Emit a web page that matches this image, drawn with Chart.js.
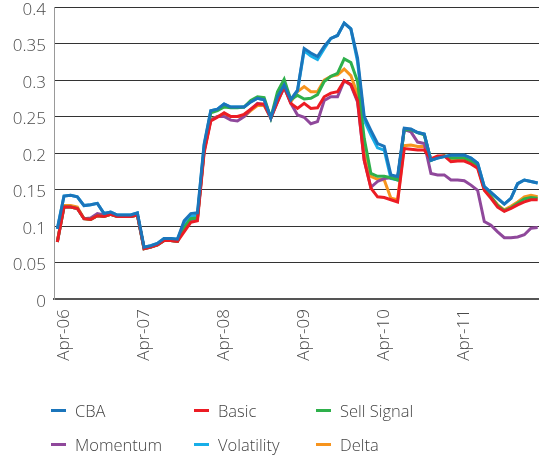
<!DOCTYPE html>
<html lang="en">
<head>
<meta charset="UTF-8">
<title>CBA and strategies</title>
<script src="https://cdn.jsdelivr.net/npm/chart.js@4.4.0/dist/chart.umd.min.js"></script>
<style>
  html, body { margin: 0; padding: 0; background: #fff; overflow: hidden; }
  #wrap { position: relative; width: 545px; height: 461px; }
  #legend { position: absolute; left: 0; top: 0; width: 539px; height: 461px; pointer-events: none;
            font-family: "Open Sans", sans-serif; font-weight: 300; font-size: 16.5px; color: #444; }
  .item { position: absolute; display: flex; align-items: center; height: 20px; white-space: nowrap; }
  .mark { width: 15px; height: 3px; margin-right: 9px; }
</style>
</head>
<body>
<div id="wrap">
  <canvas id="myChart"></canvas>
  <div id="legend"></div>
</div>

<script>
// monthly observations, Mar-06 .. Mar-12
const monthNames = ['Jan', 'Feb', 'Mar', 'Apr', 'May', 'Jun', 'Jul', 'Aug', 'Sep', 'Oct', 'Nov', 'Dec'];
const tickLabels = ['Apr-06', 'Apr-07', 'Apr-08', 'Apr-09', 'Apr-10', 'Apr-11'];

const cba = [0.096, 0.141, 0.142, 0.140, 0.128, 0.129, 0.131, 0.117, 0.119, 0.115, 0.115, 0.115, 0.118,
  0.071, 0.073, 0.076, 0.083, 0.083, 0.082, 0.107, 0.117, 0.118, 0.212, 0.258, 0.260, 0.267, 0.263, 0.263,
  0.263, 0.270, 0.275, 0.273, 0.248, 0.277, 0.293, 0.273, 0.286, 0.343, 0.337, 0.332, 0.346, 0.357, 0.361,
  0.378, 0.370, 0.330, 0.250, 0.231, 0.213, 0.209, 0.170, 0.168, 0.234, 0.233, 0.228, 0.226, 0.190, 0.193,
  0.195, 0.197, 0.197, 0.197, 0.193, 0.186, 0.154, 0.146, 0.138, 0.130, 0.138, 0.158, 0.163, 0.161, 0.159];

const basic = [0.078, 0.126, 0.126, 0.124, 0.110, 0.109, 0.114, 0.113, 0.116, 0.113, 0.113, 0.113, 0.115,
  0.069, 0.071, 0.074, 0.080, 0.080, 0.079, 0.092, 0.105, 0.107, 0.200, 0.244, 0.249, 0.255, 0.250, 0.250,
  0.253, 0.260, 0.267, 0.267, 0.248, 0.270, 0.291, 0.268, 0.261, 0.268, 0.261, 0.262, 0.277, 0.282, 0.284,
  0.299, 0.294, 0.272, 0.190, 0.152, 0.140, 0.139, 0.136, 0.133, 0.206, 0.205, 0.204, 0.204, 0.192, 0.196,
  0.196, 0.188, 0.189, 0.189, 0.185, 0.179, 0.149, 0.138, 0.126, 0.120, 0.124, 0.129, 0.133, 0.136, 0.136];

const sellSignal = [0.078, 0.126, 0.126, 0.124, 0.110, 0.109, 0.114, 0.113, 0.116, 0.113, 0.113, 0.113, 0.115,
  0.069, 0.071, 0.074, 0.080, 0.080, 0.079, 0.098, 0.110, 0.111, 0.205, 0.255, 0.258, 0.263, 0.262, 0.262,
  0.263, 0.272, 0.277, 0.276, 0.248, 0.284, 0.301, 0.273, 0.279, 0.274, 0.275, 0.280, 0.298, 0.305, 0.309,
  0.329, 0.324, 0.298, 0.220, 0.172, 0.168, 0.168, 0.166, 0.163, 0.232, 0.232, 0.228, 0.225, 0.190, 0.194,
  0.196, 0.193, 0.193, 0.193, 0.189, 0.183, 0.151, 0.140, 0.128, 0.121, 0.125, 0.131, 0.137, 0.139, 0.138];

const momentum = [0.078, 0.126, 0.126, 0.124, 0.110, 0.111, 0.117, 0.115, 0.116, 0.113, 0.113, 0.113, 0.115,
  0.069, 0.071, 0.074, 0.080, 0.080, 0.079, 0.097, 0.109, 0.110, 0.203, 0.245, 0.250, 0.250, 0.245, 0.244,
  0.250, 0.260, 0.268, 0.266, 0.248, 0.270, 0.290, 0.268, 0.252, 0.249, 0.240, 0.243, 0.272, 0.277, 0.277,
  0.299, 0.293, 0.270, 0.190, 0.153, 0.161, 0.165, 0.166, 0.165, 0.232, 0.229, 0.215, 0.213, 0.172, 0.170,
  0.170, 0.163, 0.163, 0.162, 0.156, 0.149, 0.106, 0.101, 0.092, 0.084, 0.084, 0.085, 0.088, 0.097, 0.098];

const volatility = [0.096, 0.141, 0.142, 0.140, 0.128, 0.129, 0.131, 0.117, 0.119, 0.115, 0.115, 0.115, 0.118,
  0.071, 0.073, 0.076, 0.083, 0.083, 0.082, 0.103, 0.113, 0.115, 0.210, 0.258, 0.260, 0.267, 0.263, 0.263,
  0.263, 0.270, 0.275, 0.273, 0.248, 0.277, 0.293, 0.273, 0.285, 0.340, 0.333, 0.328, 0.343, 0.357, 0.361,
  0.378, 0.370, 0.325, 0.245, 0.225, 0.207, 0.204, 0.165, 0.163, 0.232, 0.232, 0.228, 0.226, 0.190, 0.193,
  0.195, 0.197, 0.197, 0.197, 0.193, 0.186, 0.154, 0.146, 0.138, 0.130, 0.138, 0.158, 0.163, 0.161, 0.159];

const delta = [0.079, 0.128, 0.128, 0.126, 0.110, 0.109, 0.114, 0.113, 0.116, 0.113, 0.113, 0.113, 0.115,
  0.069, 0.071, 0.074, 0.080, 0.080, 0.079, 0.097, 0.109, 0.110, 0.203, 0.246, 0.250, 0.254, 0.250, 0.250,
  0.250, 0.258, 0.265, 0.265, 0.248, 0.272, 0.290, 0.270, 0.284, 0.291, 0.284, 0.284, 0.300, 0.305, 0.307,
  0.315, 0.306, 0.280, 0.200, 0.168, 0.164, 0.163, 0.138, 0.136, 0.210, 0.211, 0.209, 0.209, 0.191, 0.195,
  0.196, 0.190, 0.190, 0.190, 0.187, 0.181, 0.150, 0.140, 0.129, 0.122, 0.127, 0.133, 0.140, 0.142, 0.140];

const labels = [];
for (let i = 0; i < cba.length; i++) {
  const m = (2 + i) % 12;
  const y = 6 + Math.floor((2 + i) / 12);
  labels.push(monthNames[m] + '-' + String(y).padStart(2, '0'));
}

const series = [
  { label: 'CBA', data: cba, color: '#1b75bb' },
  { label: 'Basic', data: basic, color: '#ec1c24' },
  { label: 'Sell Signal', data: sellSignal, color: '#2eb04b' },
  { label: 'Momentum', data: momentum, color: '#8f489b' },
  { label: 'Volatility', data: volatility, color: '#18aee8' },
  { label: 'Delta', data: delta, color: '#f7941d' }
];

// legend, 3 columns x 2 rows
const legendPos = [[51, 400], [194, 400], [316, 400], [51, 434], [194, 434], [316, 434]];
const legendEl = document.getElementById('legend');
series.forEach((s, i) => {
  const item = document.createElement('div');
  item.className = 'item';
  item.style.left = legendPos[i][0] + 'px';
  item.style.top = legendPos[i][1] + 'px';
  item.innerHTML = '<span class="mark" style="background:' + s.color + '"></span>' + s.label;
  legendEl.appendChild(item);
});

const tickFont = { family: '"Open Sans", sans-serif', size: 17, weight: 300 };

const ctx = document.getElementById('myChart').getContext('2d');
new Chart(ctx, {
  type: 'line',
  data: {
    labels: labels,
    datasets: series.map(s => ({
      label: s.label,
      data: s.data,
      borderColor: s.color,
      backgroundColor: s.color,
      borderWidth: 3,
      pointRadius: 0,
      tension: 0,
      fill: false
    }))
  },
  options: {
    responsive: true,
    maintainAspectRatio: false,
    animation: false,
    layout: { padding: { top: 7, right: 4, bottom: 0, left: 0 } },
    plugins: { legend: { display: false }, tooltip: { enabled: false } },
    scales: {
      x: {
        offset: true,
        grid: { display: false, drawTicks: false },
        border: { display: true, color: '#555', width: 2 },
        ticks: {
          autoSkip: false,
          maxRotation: 90,
          minRotation: 90,
          padding: 10,
          color: '#4a4a4a',
          font: tickFont,
          callback: (v, i) => tickLabels.includes(labels[i]) ? labels[i] : ''
        },
        afterFit: scale => {
          scale.height = 162;
          scale.paddingLeft = 0;
          scale.paddingRight = 0;
        }
      },
      y: {
        min: 0,
        max: 0.4,
        grid: { color: '#333', lineWidth: 1, drawTicks: false },
        border: { display: true, color: '#999', width: 1 },
        ticks: {
          stepSize: 0.05,
          padding: 8,
          labelOffset: 3,
          color: '#4a4a4a',
          font: tickFont,
          callback: v => String(Number(v.toFixed(2)))
        },
        afterFit: scale => {
          scale.width = 54;
          scale.paddingTop = 0;
          scale.paddingBottom = 0;
        }
      }
    }
  }
});
</script>
</body>
</html>
